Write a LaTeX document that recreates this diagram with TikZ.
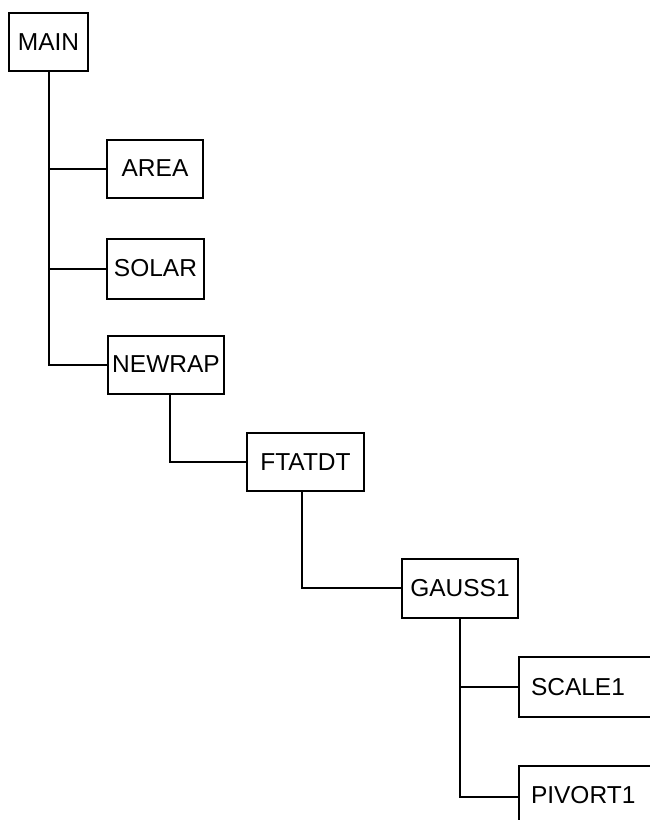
\documentclass[tikz,border=0pt]{standalone}
\usepackage{fontspec}
\setmainfont{Liberation Sans}
\begin{document}
\begin{tikzpicture}[x=1pt,y=-1pt,
  box/.style={draw, line width=2pt, inner sep=0pt, font=\fontsize{24.5}{28}\selectfont},
  openbox/.style={box, anchor=west, text width=112pt, align=left, inner xsep=12pt, minimum height=60pt},
  link/.style={line width=2pt}]
\useasboundingbox (0,0) rectangle (650,820);
\clip (0,0) rectangle (650,820);
\node[box, minimum width=79pt, minimum height=58pt] (main) at (48.5,42) {MAIN};
\node[box, minimum width=96pt, minimum height=58pt] (area) at (155,168.5) {AREA};
\node[box, minimum width=97pt, minimum height=60pt] (solar) at (155.5,268.5) {SOLAR};
\node[box, minimum width=116pt, minimum height=58pt] (newrap) at (166,364.5) {NEWRAP};
\node[box, minimum width=117pt, minimum height=58pt] (ftatdt) at (305.5,462) {FTATDT};
\node[box, minimum width=116pt, minimum height=59pt] (gauss) at (460,588) {GAUSS1};
\node[openbox] (scale) at (518,687) {SCALE1};
\node[openbox, minimum height=58pt] (pivort) at (518,795) {PIVORT1};
\draw[link] (main.south) |- (area.west);
\draw[link] (main.south) |- (solar.west);
\draw[link] (main.south) |- (newrap.west);
\draw[link] ([xshift=4pt]newrap.south) |- (ftatdt.west);
\draw[link] ([xshift=-3.5pt]ftatdt.south) |- (gauss.west);
\draw[link] (gauss.south) |- (scale.west);
\draw[link] (gauss.south) |- ([yshift=-2pt]pivort.west);
\end{tikzpicture}
\end{document}
